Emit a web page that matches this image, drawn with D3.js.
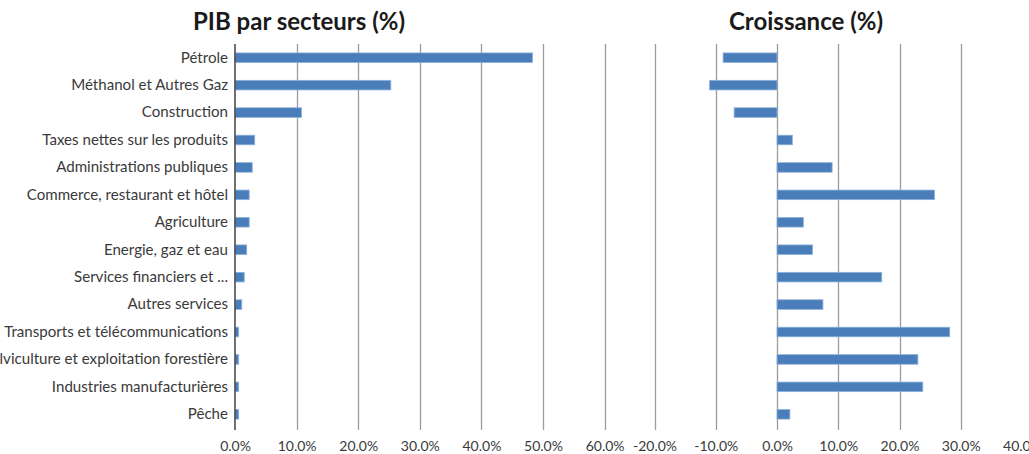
<!DOCTYPE html>
<html>
<head>
<meta charset="utf-8">
<script src="https://cdn.jsdelivr.net/npm/d3@7"></script>
<style>
  html, body { margin: 0; padding: 0; background: #fff; }
  svg { display: block; }
  text { font-family: Lato, "Noto Sans", sans-serif; }
</style>
</head>
<body>
<svg id="chart" width="1029" height="454"></svg>
<script>
// ---- Data ----
const categories = [
  "Pétrole",
  "Méthanol et Autres Gaz",
  "Construction",
  "Taxes nettes sur les produits",
  "Administrations publiques",
  "Commerce, restaurant et hôtel",
  "Agriculture",
  "Energie, gaz et eau",
  "Services financiers et ...",
  "Autres services",
  "Transports et télécommunications",
  "Sylviculture et exploitation forestière",
  "Industries manufacturières",
  "Pêche"
];
const pibShare = [0.483, 0.253, 0.108, 0.032, 0.028, 0.023, 0.023, 0.019, 0.015, 0.011, 0.006, 0.006, 0.006, 0.006];
const growth = [-0.088, -0.110, -0.070, 0.025, 0.090, 0.257, 0.043, 0.058, 0.171, 0.075, 0.282, 0.230, 0.238, 0.021];
const pibTicks = [0, 0.1, 0.2, 0.3, 0.4, 0.5, 0.6];
const growthTicks = [-0.2, -0.1, 0, 0.1, 0.2, 0.3, 0.4];
const titles = ["PIB par secteurs (%)", "Croissance (%)"];

// ---- Layout ----
const svg = d3.select("#chart");
const plotTop = 44, plotBottom = 428;
const barFill = "#4a7ebb", barStroke = "#8fb1dc", gridColor = "#9c9c9c";
const pct = d3.format(".1%");
const fmt = d => pct(d).replace("\u2212", "-");

const y = d3.scaleBand().domain(categories).range([plotTop, plotBottom])
  .paddingInner(0.65).paddingOuter(0.325);

const xL = d3.scaleLinear().domain([0, 0.6]).range([235, 604.6]);
const xR = d3.scaleLinear().domain([-0.2, 0.4]).range([654.5, 1022]);

function panel(x, ticks, values, gridFilter) {
  const g = svg.append("g");
  g.selectAll("line.grid").data(ticks.filter(gridFilter)).join("line")
    .attr("class", "grid")
    .attr("x1", d => Math.round(x(d)) + 0.5).attr("x2", d => Math.round(x(d)) + 0.5)
    .attr("y1", plotTop).attr("y2", plotBottom + 2)
    .attr("stroke", gridColor).attr("stroke-width", 1.3);
  g.selectAll("rect").data(values).join("rect")
    .attr("x", d => x(Math.min(0, d)))
    .attr("width", d => Math.abs(x(d) - x(0)))
    .attr("y", (d, i) => y(categories[i]))
    .attr("height", y.bandwidth())
    .attr("fill", barFill).attr("stroke", barStroke).attr("stroke-width", 0.8);
  const axis = d3.axisBottom(x).tickValues(ticks).tickFormat(fmt).tickSize(0).tickPadding(0);
  const ax = g.append("g").attr("transform", `translate(0,${plotBottom + 13})`).call(axis);
  ax.select(".domain").remove();
  ax.selectAll("text").attr("font-size", "14px").attr("fill", "#3a3a3a")
    .attr("font-family", "Lato, 'Noto Sans', sans-serif");
  return g;
}

const gL = panel(xL, pibTicks, pibShare, d => d > 0);
gL.append("line")
  .attr("x1", xL(0)).attr("x2", xL(0)).attr("y1", plotTop).attr("y2", plotBottom + 2)
  .attr("stroke", "#4d4d4d").attr("stroke-width", 1.6);
const yAxis = d3.axisLeft(y).tickSize(0).tickPadding(0);
const ya = gL.append("g").attr("transform", `translate(${xL(0) - 7},0)`).call(yAxis);
ya.select(".domain").remove();
ya.selectAll("text").attr("font-size", "15.1px").attr("fill", "#3a3a3a")
  .attr("font-family", "Lato, 'Noto Sans', sans-serif");

const gR = panel(xR, growthTicks, growth, d => d < 0.4);

svg.append("text").text(titles[0])
  .attr("x", 299).attr("y", 30).attr("text-anchor", "middle")
  .attr("font-size", "24px").attr("font-weight", "bold").attr("fill", "#1a1a1a");
svg.append("text").text(titles[1])
  .attr("x", 806).attr("y", 30).attr("text-anchor", "middle")
  .attr("font-size", "24px").attr("font-weight", "bold").attr("fill", "#1a1a1a");
</script>
</body>
</html>
